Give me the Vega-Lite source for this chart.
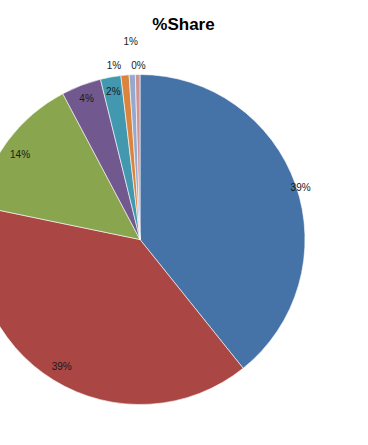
{
  "$schema": "https://vega.github.io/schema/vega-lite/v6.json",
  "autosize": "none",
  "padding": {"left": 0, "top": 0, "right": 88, "bottom": 0},
  "width": 280,
  "height": 479,
  "background": "white",
  "title": {
    "text": "%Share",
    "font": "Liberation Sans",
    "fontSize": 17,
    "fontWeight": "bold",
    "color": "#000000",
    "anchor": "middle",
    "dx": 43.5,
    "dy": 17,
    "baseline": "alphabetic",
    "offset": -30
  },
  "config": {"view": {"stroke": null}},
  "data": {
    "values": [
      {"idx": 1, "cat": "A", "share": 0.3925},
      {"idx": 2, "cat": "B", "share": 0.39},
      {"idx": 3, "cat": "C", "share": 0.14},
      {"idx": 4, "cat": "D", "share": 0.039},
      {"idx": 5, "cat": "E", "share": 0.02},
      {"idx": 6, "cat": "F", "share": 0.008},
      {"idx": 7, "cat": "G", "share": 0.006},
      {"idx": 8, "cat": "H", "share": 0.0045}
    ]
  },
  "encoding": {
    "theta": {"field": "share", "type": "quantitative", "stack": true},
    "order": {"field": "idx", "type": "quantitative"}
  },
  "layer": [
    {
      "mark": {"type": "arc", "outerRadius": 165, "stroke": "white", "strokeWidth": 0.6},
      "encoding": {
        "color": {
          "field": "cat",
          "type": "nominal",
          "legend": null,
          "scale": {
            "domain": ["A", "B", "C", "D", "E", "F", "G", "H"],
            "range": ["#4572A7", "#AA4643", "#89A54E", "#71588F", "#4198AF", "#DB843D", "#93A9CF", "#D19392"]
          }
        }
      }
    },
    {
      "mark": {"type": "text", "radius": 150, "font": "Liberation Sans", "fontSize": 10, "color": "#1a1a1a"},
      "encoding": {
        "text": {
          "condition": {"test": "indexof(['B','D','E'], datum.cat) >= 0", "field": "share", "type": "quantitative", "format": ".0%"},
          "value": ""
        }
      }
    },
    {
      "mark": {"type": "text", "radius": 150, "dy": 6, "font": "Liberation Sans", "fontSize": 10, "color": "#1a1a1a"},
      "encoding": {
        "text": {
          "condition": {"test": "datum.cat == 'C'", "field": "share", "type": "quantitative", "format": ".0%"},
          "value": ""
        }
      }
    },
    {
      "mark": {"type": "text", "radius": 167, "dx": 3, "dy": 4, "font": "Liberation Sans", "fontSize": 10, "color": "#1a1a1a"},
      "encoding": {
        "text": {
          "condition": {"test": "datum.cat == 'A'", "field": "share", "type": "quantitative", "format": ".0%"},
          "value": ""
        }
      }
    },
    {
      "mark": {"type": "text", "radius": 176, "dx": -10, "dy": 2, "font": "Liberation Sans", "fontSize": 10, "color": "#1a1a1a"},
      "encoding": {
        "text": {
          "condition": {"test": "datum.cat == 'F'", "field": "share", "type": "quantitative", "format": ".0%"},
          "value": ""
        }
      }
    },
    {
      "mark": {"type": "text", "radius": 198, "font": "Liberation Sans", "fontSize": 10, "color": "#1a1a1a"},
      "encoding": {
        "text": {
          "condition": {"test": "datum.cat == 'G'", "field": "share", "type": "quantitative", "format": ".0%"},
          "value": ""
        }
      }
    },
    {
      "mark": {"type": "text", "radius": 175, "dx": 1, "dy": 1, "font": "Liberation Sans", "fontSize": 10, "color": "#1a1a1a"},
      "encoding": {
        "text": {
          "condition": {"test": "datum.cat == 'H'", "field": "share", "type": "quantitative", "format": ".0%"},
          "value": ""
        }
      }
    }
  ]
}
